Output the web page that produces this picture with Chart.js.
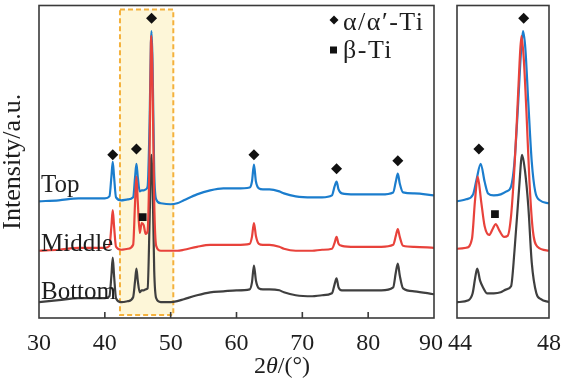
<!DOCTYPE html>
<html><head><meta charset="utf-8">
<script src="https://cdn.jsdelivr.net/npm/chart.js@4.4.1/dist/chart.umd.min.js"></script>
<style>
html,body{margin:0;padding:0;background:#fff;}
#wrap{position:relative;width:564px;height:379px;overflow:hidden;}
canvas{position:absolute;left:0;top:0;}
</style></head><body>
<div id="wrap"><canvas id="main" width="564" height="379"></canvas><canvas id="zoom" width="564" height="379"></canvas></div>
<script>
// ---------- DATA ----------
const seriesNames = ['Top', 'Middle', 'Bottom'];
const xTickLabelsMain = [30, 40, 50, 60, 70, 80, 90];
const xTickLabelsZoom = [44, 48];
const highlightRange = [42.3, 50.4];

// full scan, 2θ (degrees)
const angles = [30,33,36,38,40,40.7,41.0,41.2,41.4,41.7,
  42.5,43.5,44.3,44.6,44.8,45.0,45.3,45.6,45.9,46.2,
  46.5,46.8,47.0,47.1,47.25,47.5,47.8,48.5,50,51,
  52,54,56,58,60,62,62.35,62.65,62.95,63.4,
  64,65,66.5,67.2,69,71.5,73,74.5,74.9,75.2,
  75.5,76,78,80,82,83.8,84.2,84.5,84.8,85.3,
  87,90];
const topIntensity = [118,119,121,121,121,123,143,158,143,122,
  119,120,122,143,156,143,128,129,129,130,
  133,198,278,290,258,148,120,116,115,116,
  119,125,129,131,131,132,138,155,138,131,
  130,130,128,126,123,122,122,124,133,138,
  130,126,125,125,125,127,138,146,136,127,
  126,124];
const middleIntensity = [68,69,71,71,71,73,93,109,93,72,
  69,70,74,118,143,118,86,96,94,85,
  88,168,278,285,238,118,73,68,68,68,
  69,72,74,74,74,75,82,96,83,75,
  74,74,72,70,68,68,69,70,76,82,
  75,73,72,72,72,74,83,90,82,73,
  72,71];
const bottomIntensity = [16,18,20,20,20,22,43,61,43,20,
  16,17,21,38,50,38,26,28,28,29,
  30,98,158,165,138,48,20,16,16,17,
  19,23,26,27,28,29,36,53,38,30,
  29,29,28,26,23,22,23,25,34,40,
  31,28,28,28,28,31,46,55,43,30,
  27,24];

// phase markers, full scan
const alphaAngles = [41.2, 44.8, 47.1, 62.65, 75.2, 84.5];
const alphaHeights = [165, 171, 303, 165, 151, 159];
const betaAngles = [45.75];
const betaHeights = [102];

// zoomed scan 44-48°
const zoomTopAngle = [44.0,44.4,44.7,44.85,45.03,45.2,45.35,45.6,45.9,46.15,46.35,46.5,46.65,46.78,46.87,46.97,47.1,47.25,47.4,47.6,48.0];
const zoomTopIntensity = [118,120,125,140,156,138,126,124,125,128,133,158,213,268,290,273,218,158,128,119,116];
const zoomMiddleAngle = [44.0,44.4,44.65,44.78,44.9,45.05,45.2,45.4,45.55,45.68,45.85,46.05,46.2,46.35,46.5,46.6,46.72,46.8,46.9,47.02,47.15,47.3,47.5,48.0];
const zoomMiddleIntensity = [70,71,80,118,143,118,93,84,90,95,88,82,83,103,153,198,258,285,263,208,138,88,72,68];
const zoomBottomAngle = [44.0,44.5,44.68,44.8,44.88,45.0,45.15,45.3,45.6,45.9,46.15,46.35,46.5,46.7,46.83,46.95,47.1,47.25,47.45,47.65,48.0];
const zoomBottomIntensity = [16,18,25,42,50,38,30,25,25,26,29,32,68,131,165,150,113,56,25,19,16];
const zoomAlphaAngles = [44.95, 46.9];
const zoomAlphaHeights = [171, 303];
const zoomBetaAngles = [45.65];
const zoomBetaHeights = [105];

// ---------- STYLE ----------
const SERIF = '"Liberation Serif", "Times New Roman", serif';
const COLORS = { top: '#1b7dcd', middle: '#e8423b', bottom: '#3f3f3f' };
const FRAME = '#3a3a3a';
const TEXT = '#1e1e1e';
const Y_MAX = 316;

const pts = (xs, ys) => xs.map((x, i) => ({ x: x, y: ys[i] }));

function lineDs(label, xs, ys, color) {
  return { type: 'line', label, data: pts(xs, ys), borderColor: color, borderWidth: 2.2,
    pointRadius: 0, fill: false, cubicInterpolationMode: 'monotone' };
}
function markerDs(label, xs, ys, style, r) {
  return { type: 'scatter', label, data: pts(xs, ys), pointStyle: style, pointRadius: r,
    pointHoverRadius: r, backgroundColor: '#111', borderColor: '#111', borderWidth: 0 };
}

function drawFrame(chart) {
  const { ctx, chartArea: a } = chart;
  ctx.save();
  ctx.strokeStyle = FRAME; ctx.lineWidth = 1.6;
  ctx.strokeRect(a.left, a.top, a.right - a.left, a.bottom - a.top);
  ctx.restore();
}

const mainDecor = {
  id: 'mainDecor',
  beforeDatasetsDraw(chart) {
    const { ctx, chartArea: a, scales: { x } } = chart;
    const x0 = x.getPixelForValue(highlightRange[0]);
    const x1 = x.getPixelForValue(highlightRange[1]);
    ctx.save();
    ctx.fillStyle = '#fdf6d8';
    ctx.fillRect(x0, a.top + 4, x1 - x0, a.bottom - a.top - 7);
    ctx.strokeStyle = '#f4b13c'; ctx.lineWidth = 2; ctx.setLineDash([5, 3]);
    ctx.strokeRect(x0, a.top + 4, x1 - x0, a.bottom - a.top - 7);
    ctx.restore();
  },
  afterDraw(chart) {
    const { ctx, chartArea: a, scales: { x } } = chart;
    drawFrame(chart);
    ctx.save();
    // inward ticks
    ctx.strokeStyle = FRAME; ctx.lineWidth = 1.6;
    x.ticks.forEach(t => {
      const px = x.getPixelForValue(t.value);
      if (px <= a.left + 1 || px >= a.right - 1) return;
      ctx.beginPath(); ctx.moveTo(px, a.bottom); ctx.lineTo(px, a.bottom - 6); ctx.stroke();
    });
    // series labels
    ctx.fillStyle = TEXT; ctx.font = '25px ' + SERIF; ctx.textBaseline = 'alphabetic'; ctx.textAlign = 'left';
    const labelBase = [192, 251, 299];
    seriesNames.forEach((n, i) => ctx.fillText(n, a.left + 2, labelBase[i]));
    // legend
    ctx.fillStyle = '#111';
    ctx.beginPath(); ctx.moveTo(334, 15.5); ctx.lineTo(338.5, 20); ctx.lineTo(334, 24.5); ctx.lineTo(329.5, 20); ctx.closePath(); ctx.fill();
    ctx.fillRect(330, 46.5, 7, 7);
    ctx.fillStyle = TEXT; ctx.font = '26px ' + SERIF;
    if ('letterSpacing' in ctx) ctx.letterSpacing = '1.5px';
    ctx.fillText('α/α′-Ti', 343, 30);
    ctx.fillText('β-Ti', 343, 58);
    if ('letterSpacing' in ctx) ctx.letterSpacing = '0px';
    // x axis title: 2θ/(°)
    const parts = [['2', 'normal'], ['θ', 'italic'], ['/(°)', 'normal']];
    let total = 0;
    parts.forEach(p => { ctx.font = p[1] + ' 24px ' + SERIF; total += ctx.measureText(p[0]).width; });
    let cx = chart.width / 2 - total / 2;
    parts.forEach(p => { ctx.font = p[1] + ' 24px ' + SERIF; ctx.fillText(p[0], cx, 373); cx += ctx.measureText(p[0]).width; });
    ctx.restore();
  }
};
const zoomDecor = { id: 'zoomDecor', afterDraw(chart) { drawFrame(chart); } };

const tickFont = { family: SERIF, size: 24, lineHeight: 1.2 };

new Chart(document.getElementById('main'), {
  data: {
    datasets: [
      markerDs('α/α′-Ti', alphaAngles, alphaHeights, 'rectRot', 5.5),
      markerDs('β-Ti', betaAngles, betaHeights, 'rect', 5.5),
      lineDs(seriesNames[1], angles, middleIntensity, COLORS.middle),
      lineDs(seriesNames[0], angles, topIntensity, COLORS.top),
      lineDs(seriesNames[2], angles, bottomIntensity, COLORS.bottom)
    ]
  },
  options: {
    responsive: false, animation: false, events: [],
    layout: { padding: { left: 0, right: 130, top: 2, bottom: 0 } },
    plugins: { legend: { display: false }, tooltip: { enabled: false } },
    scales: {
      x: { type: 'linear', min: 30, max: 90,
        afterBuildTicks: s => { s.ticks = xTickLabelsMain.map(v => ({ value: v })); },
        afterFit: s => { s.height = 61; },
        grid: { display: false }, border: { display: false },
        ticks: { font: tickFont, color: TEXT, padding: 3, maxRotation: 0, autoSkip: false,
          callback: v => (v === 90 ? v + ' ' : String(v)) } },
      y: { type: 'linear', min: 0, max: Y_MAX,
        afterFit: s => { s.width = 39; },
        grid: { display: false }, border: { display: false }, ticks: { display: false },
        title: { display: true, text: 'Intensity/a.u.', font: { family: SERIF, size: 26, lineHeight: 1.0 }, color: TEXT, padding: 0 } }
    }
  },
  plugins: [mainDecor]
});

new Chart(document.getElementById('zoom'), {
  data: {
    datasets: [
      markerDs('α/α′-Ti', zoomAlphaAngles, zoomAlphaHeights, 'rectRot', 5.5),
      markerDs('β-Ti', zoomBetaAngles, zoomBetaHeights, 'rect', 5.5),
      lineDs(seriesNames[1], zoomMiddleAngle, zoomMiddleIntensity, COLORS.middle),
      lineDs(seriesNames[0], zoomTopAngle, zoomTopIntensity, COLORS.top),
      lineDs(seriesNames[2], zoomBottomAngle, zoomBottomIntensity, COLORS.bottom)
    ]
  },
  options: {
    responsive: false, animation: false, events: [],
    layout: { padding: { left: 457, right: 13, top: 2, bottom: 0 } },
    plugins: { legend: { display: false }, tooltip: { enabled: false } },
    scales: {
      x: { type: 'linear', min: 44, max: 48,
        afterBuildTicks: s => { s.ticks = xTickLabelsZoom.map(v => ({ value: v })); },
        afterFit: s => { s.height = 61; },
        grid: { display: false }, border: { display: false },
        ticks: { font: tickFont, color: TEXT, padding: 3, maxRotation: 0, autoSkip: false,
          callback: v => (v === 44 ? ' ' + v : String(v)) } },
      y: { type: 'linear', min: 0, max: Y_MAX, display: false }
    }
  },
  plugins: [zoomDecor]
});
</script>
</body></html>
